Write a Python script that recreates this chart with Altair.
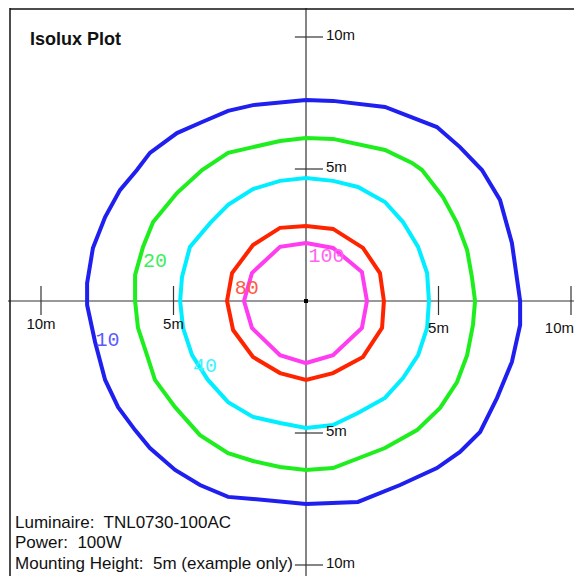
import altair as alt
import pandas as pd

# ---- data (metres) ----
levels = ["10", "20", "40", "80", "100"]
line_colors = ["#1f1ff0", "#1eee1e", "#00eeff", "#ff2400", "#ff3cf0"]
label_colors = ["#5a5aff", "#3cee5a", "#3cf4ff", "#ff5a46", "#ff64f0"]

x10 = [0, 1.02, 2.98, 4.94, 5.81, 6.64, 7.32, 7.77, 8.08, 8.08, 7.77, 7.21, 6.57, 5.81, 4.94, 3.55, 1.96, 0,
       -2.00, -2.94, -4.00, -4.94, -5.89, -6.45, -7.09, -7.58, -7.96, -8.26, -8.26, -8.04, -7.58, -7.02, -6.38,
       -5.89, -4.87, -3.92, -2.94, -2.00]
y10 = [7.61, 7.58, 7.35, 6.59, 5.83, 4.96, 3.83, 2.20, 0.0, -0.91, -2.31, -3.67, -4.96, -5.72, -6.33, -6.97, -7.61,
       -7.69, -7.50, -7.42, -6.97, -6.40, -5.57, -4.89, -4.02, -2.99, -1.55, -0.15, 0.68, 2.01, 3.18, 4.20, 4.96,
       5.61, 6.36, 6.78, 7.20, 7.42]

x20 = [0, 1.02, 2.98, 4.00, 4.38, 5.17, 5.70, 6.08, 6.26, 6.38, 6.30, 6.08, 5.70, 5.06, 4.19, 2.98, 1.02, 0,
       -0.98, -2.00, -2.94, -4.00, -4.94, -5.70, -6.00, -6.34, -6.45, -6.45, -6.15, -5.77, -4.87, -3.92, -2.94,
       -2.00, -0.98]
y20 = [6.17, 6.14, 5.72, 5.23, 4.96, 3.94, 2.95, 1.93, 0.91, 0, -0.91, -2.05, -3.07, -4.05, -4.89, -5.57, -6.33,
       -6.40, -6.29, -6.06, -5.76, -5.08, -4.02, -2.99, -2.05, -1.02, 0, 0.98, 2.05, 2.99, 4.09, 4.96, 5.61, 5.83,
       6.06]

x40 = [0, 1.02, 1.96, 2.98, 3.66, 4.23, 4.57, 4.64, 4.57, 4.23, 3.66, 2.98, 1.96, 1.02, 0, -0.98, -2.00, -2.94,
       -3.70, -4.30, -4.64, -4.75, -4.68, -4.38, -3.62, -2.94, -2.00, -0.98]
y40 = [4.66, 4.55, 4.32, 3.75, 2.99, 2.05, 1.06, 0, -1.02, -2.05, -2.92, -3.67, -4.24, -4.70, -4.81, -4.62, -4.39,
       -3.83, -2.99, -2.05, -1.02, 0, 0.91, 2.05, 2.95, 3.64, 4.24, 4.55]

x80 = [0, 1.02, 2.15, 2.79, 2.94, 2.87, 2.15, 1.02, 0, -0.98, -2.00, -2.75, -2.98, -2.79, -2.00, -0.98]
y80 = [2.84, 2.73, 2.01, 1.06, 0, -1.02, -2.12, -2.73, -2.99, -2.73, -2.12, -1.10, 0, 1.06, 2.12, 2.77]

x100 = [0, 1.02, 2.11, 2.30, 2.11, 1.02, 0, -0.98, -2.04, -2.34, -2.04, -0.98]
y100 = [2.20, 2.01, 1.10, 0, -1.02, -2.05, -2.35, -2.05, -1.02, 0, 1.06, 2.05]

label_x = [-7.49, -5.70, -3.81, -2.24, 0.77]
label_y = [-1.46, 1.50, -2.46, 0.51, 1.72]

tick_pos = [-10, -5, 5, 10]
x_tick_labels = ["10m", "5m", "5m", "10m"]
x_label_y = [-1.06, -1.06, -1.21, -1.21]
y_tick_labels = ["10m", "5m", "5m", "10m"]

title_text = "Isolux Plot"
info_lines = ["Luminaire:\u00a0 TNL0730-100AC", "Power:\u00a0 100W", "Mounting Height:\u00a0 5m (example only)"]
info_y = [-8.60, -9.36, -10.15]

# ---- layout ----
W, H = 566, 568
kx, ky = 26.5, 26.4
cx, cy = 298, 293
xs = alt.Scale(domain=[-cx / kx, (W - cx) / kx], nice=False, zero=False)
ys = alt.Scale(domain=[-(H - cy) / ky, cy / ky], nice=False, zero=False)


def X(f):
    return alt.X(f, type="quantitative", scale=xs, axis=None)


def Y(f):
    return alt.Y(f, type="quantitative", scale=ys, axis=None)


rows = []
for lev, col, xl, yl in zip(levels, line_colors, [x10, x20, x40, x80, x100], [y10, y20, y40, y80, y100]):
    pts = list(zip(xl, yl)) + [(xl[0], yl[0])]
    for i, (a, b) in enumerate(pts):
        rows.append({"level": lev, "col": col, "i": i, "x": a, "y": b})
contours = pd.DataFrame(rows)

lines = alt.Chart(contours).mark_line(strokeWidth=4).encode(
    x=X("x"), y=Y("y"), color=alt.Color("col:N", scale=None), detail="level:N", order="i:Q"
)

lab_df = pd.DataFrame({"t": levels, "x": label_x, "y": label_y, "col": label_colors})
contour_labels = alt.Chart(lab_df).mark_text(
    font="Liberation Mono", fontSize=20, align="center", baseline="middle"
).encode(x=X("x"), y=Y("y"), text="t:N", color=alt.Color("col:N", scale=None))

zero_df = pd.DataFrame({"z": [0]})
hline = alt.Chart(zero_df).mark_rule(color="#333333", strokeWidth=1.2).encode(y=Y("z"))
vline = alt.Chart(zero_df).mark_rule(color="#333333", strokeWidth=1.2).encode(x=X("z"))
dot = alt.Chart(zero_df).mark_square(size=16, color="black", opacity=1).encode(x=X("z"), y=Y("z"))

tick_df = pd.DataFrame({"p": tick_pos, "lo": -0.53, "hi": 0.57, "xlo": -0.42, "xhi": 0.64,
                        "xl": x_tick_labels, "xly": x_label_y, "yl": y_tick_labels, "lx": 0.75})
xticks = alt.Chart(tick_df).mark_rule(color="#333333", strokeWidth=1.2).encode(
    x=X("p"), y=Y("lo"), y2="hi")
yticks = alt.Chart(tick_df).mark_rule(color="#333333", strokeWidth=1.2).encode(
    y=Y("p"), x=X("xlo"), x2="xhi")
xlabels = alt.Chart(tick_df.iloc[:3]).mark_text(
    font="Liberation Sans", fontSize=15, align="center", baseline="alphabetic", color="#111111"
).encode(x=X("p"), y=Y("xly"), text="xl:N")
xlabel_last = alt.Chart(tick_df.iloc[3:]).mark_text(
    font="Liberation Sans", fontSize=15, align="right", baseline="alphabetic", dx=3, color="#111111"
).encode(x=X("p"), y=Y("xly"), text="xl:N")
ylabels = alt.Chart(tick_df).mark_text(
    font="Liberation Sans", fontSize=15, align="left", baseline="middle", dy=-2, color="#111111"
).encode(x=X("lx"), y=Y("p"), text="yl:N")

title_df = pd.DataFrame({"t": [title_text], "x": [-10.415], "y": [9.70]})
title = alt.Chart(title_df).mark_text(
    font="Liberation Sans", fontSize=18, fontWeight="bold", align="left", baseline="alphabetic", color="#111111"
).encode(x=X("x"), y=Y("y"), text="t:N")

info_df = pd.DataFrame({"t": info_lines, "x": -10.98, "y": info_y})
info = alt.Chart(info_df).mark_text(
    font="Liberation Sans", fontSize=17, align="left", baseline="alphabetic", color="#111111"
).encode(x=X("x"), y=Y("y"), text="t:N")

border_df = pd.DataFrame({"z": [0]})
left_border = alt.Chart(border_df).mark_rule(color="#111111", strokeWidth=1.5).encode(
    x=alt.value(2), y=alt.value(0), y2=alt.value(H))
top_border = alt.Chart(border_df).mark_rule(color="#111111", strokeWidth=1.5).encode(
    y=alt.value(1), x=alt.value(2), x2=alt.value(W))

chart = alt.layer(
    hline, vline, xticks, yticks, lines, dot, contour_labels, xlabels, xlabel_last, ylabels, title, info,
    left_border, top_border
).properties(width=W, height=H, padding=0, autosize="none").configure_view(stroke=None)

chart.save("out.html", embed_options={"renderer": "svg", "actions": False})
